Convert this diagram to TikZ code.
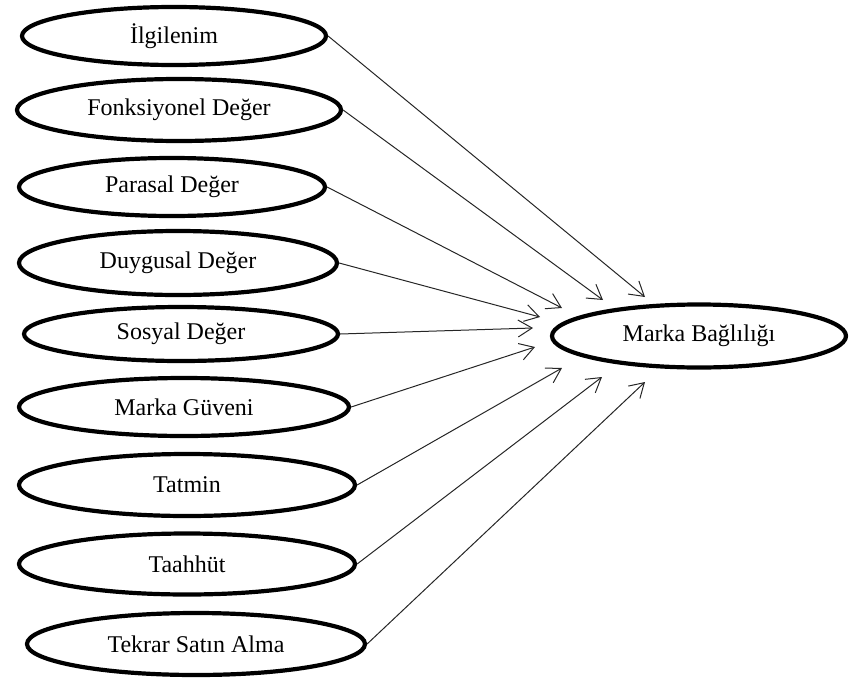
\documentclass[tikz,border=0pt]{standalone}
\usepackage{fontspec}
\setmainfont{Liberation Serif}
\usetikzlibrary{shapes.geometric,arrows.meta}
\begin{document}
\begin{tikzpicture}[x=1pt,y=-1pt,
  factor/.style={ellipse,draw=black,line width=4.2pt,inner sep=0pt,
    font=\fontsize{24}{28}\selectfont},
  link/.style={draw=black!85,line width=1pt,
    -{Straight Barb[length=14pt,width=17pt,line width=1pt]}}]
\useasboundingbox (0,0) rectangle (851,680);

% source constructs
\node[factor,minimum width=304pt,minimum height=58pt] (ilg) at (174,36) {İlgilenim};
\node[factor,minimum width=324pt,minimum height=62pt] (fon) at (179,110) {Fonksiyonel Değer};
\node[factor,minimum width=306pt,minimum height=58pt] (par) at (172,187) {Parasal Değer};
\node[factor,minimum width=318pt,minimum height=64pt] (duy) at (178,263) {Duygusal Değer};
\node[factor,minimum width=314pt,minimum height=54pt] (sos) at (181,334) {Sosyal Değer};
\node[factor,minimum width=330pt,minimum height=58pt] (guv) at (184,407) {Marka Güveni};
\node[factor,minimum width=336pt,minimum height=62pt] (tat) at (187,485) {Tatmin};
\node[factor,minimum width=336pt,minimum height=61pt] (taa) at (187,564) {Taahhüt};
\node[factor,minimum width=338pt,minimum height=62pt] (tek) at (196,644) {Tekrar Satın Alma};

% outcome
\node[factor,minimum width=294pt,minimum height=63pt] (bag) at (699,336) {Marka Bağlılığı};

% arrow tips, stopping short of the outcome ellipse
\coordinate (t1) at (645,297);
\coordinate (t2) at (603,300);
\coordinate (t3) at (562,308);
\coordinate (t4) at (540,317);
\coordinate (t5) at (533,328);
\coordinate (t6) at (535,347);
\coordinate (t7) at (562,368);
\coordinate (t8) at (602,377);
\coordinate (t9) at (645,382);

\draw[link] (ilg.east) -- (t1);
\draw[link] (fon.east) -- (t2);
\draw[link] (par.east) -- (t3);
\draw[link] (duy.east) -- (t4);
\draw[link] (sos.east) -- (t5);
\draw[link] (guv.east) -- (t6);
\draw[link] (tat.east) -- (t7);
\draw[link] (taa.east) -- (t8);
\draw[link] (tek.east) -- (t9);
\end{tikzpicture}
\end{document}
